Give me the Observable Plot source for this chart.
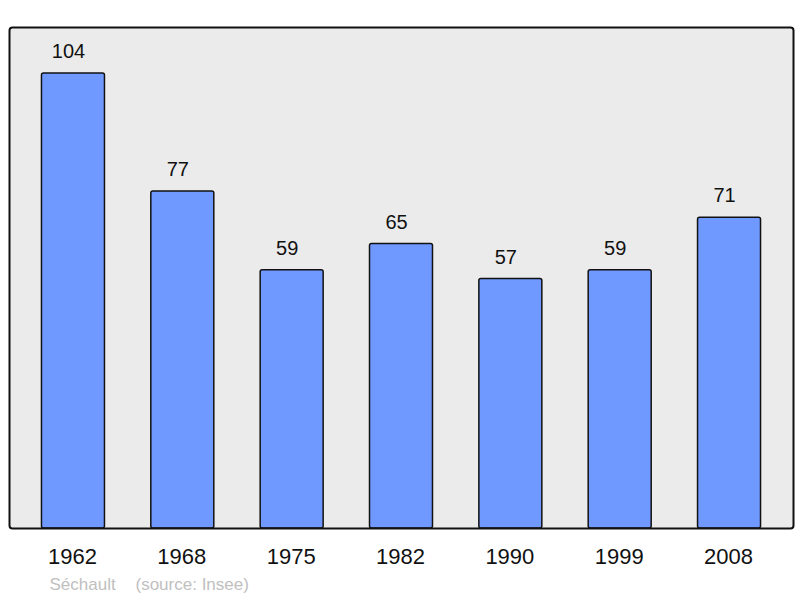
<!DOCTYPE html>
<html>
<head>
<meta charset="utf-8">
<script src="https://cdn.jsdelivr.net/npm/d3@7"></script>
<script src="https://cdn.jsdelivr.net/npm/@observablehq/plot@0.6"></script>
<style>
  html, body { margin: 0; padding: 0; background: #fff; }
  svg { display: block; }
</style>
</head>
<body>
<div id="chart"></div>
<script>
const years = ["1962", "1968", "1975", "1982", "1990", "1999", "2008"];
const population = [104, 77, 59, 65, 57, 59, 71];
const placeName = "Séchault";
const sourceText = "(source: Insee)";

const data = years.map((y, i) => ({year: y, value: population[i]}));

const chart = Plot.plot({
  width: 800,
  height: 598,
  marginTop: 27,
  marginBottom: 70,
  marginLeft: 9,
  marginRight: 7,
  style: {fontFamily: "'Liberation Sans', Arial, sans-serif", background: "white"},
  x: {domain: years, paddingInner: 0.424, paddingOuter: 0.297, round: false, label: null},
  y: {domain: [0, 114.5], axis: null},
  marks: [
    Plot.frame({fill: "#ebebeb", stroke: null, rx: 3}),
    Plot.barY(data, {x: "year", y: "value", fill: "#7099ff", stroke: "#111", strokeWidth: 1.5, rx: 2}),
    Plot.frame({fill: "none", stroke: "#111", strokeWidth: 2, rx: 3}),
    Plot.text(data, {x: "year", y: "value", text: d => String(d.value), lineAnchor: "bottom", dx: -5, dy: -15.5, fontSize: 20, fill: "#111"}),
    Plot.axisX({tickSize: 0, tickPadding: 19.5, fontSize: 22, label: null, color: "#111", dx: -1}),
    Plot.text([placeName], {frameAnchor: "bottom-left", dx: 40, dy: 61, fontSize: 17, fill: "#c0c0c0", textAnchor: "start", lineAnchor: "bottom"}),
    Plot.text([sourceText], {frameAnchor: "bottom-left", dx: 126, dy: 61, fontSize: 17, fill: "#c0c0c0", textAnchor: "start", lineAnchor: "bottom"})
  ]
});
document.getElementById("chart").appendChild(chart);
</script>
</body>
</html>
